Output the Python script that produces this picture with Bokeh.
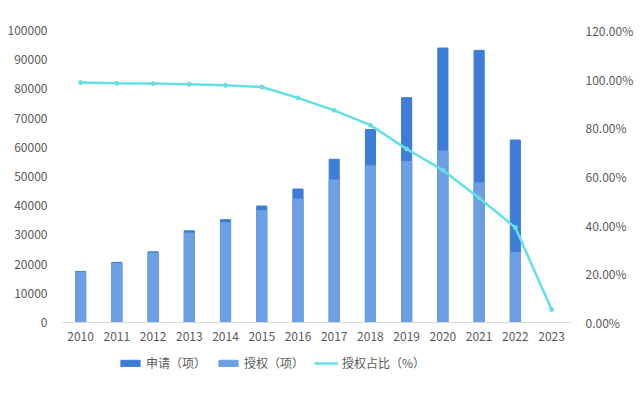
from bokeh.plotting import figure
from bokeh.layouts import column
from bokeh.models import (Range1d, LinearAxis, FixedTicker, PrintfTickFormatter,
                          Legend, LegendItem, ColumnDataSource)
from bokeh.embed import file_html
from bokeh.resources import INLINE

years = [2010, 2011, 2012, 2013, 2014, 2015, 2016, 2017, 2018, 2019, 2020, 2021, 2022, 2023]
year_labels = [str(y) for y in years]
nan = float("nan")
apply_counts = [17500, 20600, 24200, 31400, 35200, 39900, 45700, 55900, 66100, 77000, 94000, 93200, 62500, nan]
grant_counts = [17200, 20200, 23800, 30600, 34200, 38300, 42300, 48800, 53700, 55100, 58700, 47800, 24000, nan]
grant_ratio = [98.6, 98.3, 98.2, 97.9, 97.5, 96.8, 92.3, 87.2, 81.1, 71.3, 62.6, 51.2, 39.0, 5.3]
left_ticks = [0, 10000, 20000, 30000, 40000, 50000, 60000, 70000, 80000, 90000, 100000]
right_ticks = [0, 20, 40, 60, 80, 100, 120]
series_names = ["申请（项）", "授权（项）", "授权占比（%）"]

FONT = "Noto Sans CJK SC"
TXT = "#595959"
C_APPLY = "#3D7DD8"
C_GRANT = "#6C9FE3"
C_LINE = "#62E0E3"
BAR_W = 0.28

src = ColumnDataSource(dict(x=years, apply=apply_counts, grant=grant_counts, ratio=grant_ratio))

xr = Range1d(2009.5, 2023.55)
p = figure(width=636, height=343, output_backend="svg", toolbar_location=None,
           x_range=xr, y_range=Range1d(0, 100000),
           min_border_left=62, min_border_right=59, min_border_top=30, min_border_bottom=20)
p.extra_y_ranges = {"pct": Range1d(0, 120)}

p.vbar(x="x", top="apply", width=BAR_W, source=src, color=C_APPLY)
p.vbar(x="x", top="grant", width=BAR_W, source=src, color=C_GRANT)
p.line(x="x", y="ratio", source=src, y_range_name="pct", color=C_LINE, line_width=2.5)
p.scatter(x="x", y="ratio", source=src, y_range_name="pct", color=C_LINE, size=4)

p.grid.visible = False
p.outline_line_color = None

# x axis
xa = p.xaxis[0]
xa.ticker = FixedTicker(ticks=years)
xa.major_label_overrides = {y: l for y, l in zip(years, year_labels)}
xa.axis_line_color = "#D9D9D9"
xa.major_tick_line_color = None
xa.minor_tick_line_color = None
xa.major_label_text_font = FONT
xa.major_label_text_font_size = "12px"
xa.major_label_text_color = TXT
xa.major_label_standoff = 3

# left axis
ya = p.yaxis[0]
ya.ticker = FixedTicker(ticks=left_ticks)
ya.formatter = PrintfTickFormatter(format="%d")
ya.axis_line_color = None
ya.major_tick_line_color = None
ya.minor_tick_line_color = None
ya.major_label_text_font = FONT
ya.major_label_text_font_size = "12px"
ya.major_label_text_color = TXT
ya.major_label_standoff = 9

# right axis
ra = LinearAxis(y_range_name="pct", ticker=FixedTicker(ticks=right_ticks),
                formatter=PrintfTickFormatter(format="%.2f%%"))
ra.axis_line_color = None
ra.major_tick_line_color = None
ra.minor_tick_line_color = None
ra.major_label_text_font = FONT
ra.major_label_text_font_size = "12px"
ra.major_label_text_color = TXT
ra.major_label_standoff = 8
p.add_layout(ra, "right")

# legend strip: same series as hidden renderers in a small figure, legend only
lg = figure(width=636, height=53, output_backend="svg", toolbar_location=None,
            x_range=xr, y_range=Range1d(0, 100000),
            x_axis_location=None, y_axis_location=None,
            min_border_left=0, min_border_right=0, min_border_top=0, min_border_bottom=0)
lg.grid.visible = False
lg.outline_line_color = None
l1 = lg.vbar(x="x", top="apply", width=BAR_W, source=src, color=C_APPLY, visible=False)
l2 = lg.vbar(x="x", top="grant", width=BAR_W, source=src, color=C_GRANT, visible=False)
l3 = lg.line(x="x", y="ratio", source=src, color=C_LINE, line_width=2.5, visible=False)

legend = Legend(items=[LegendItem(label=series_names[0], renderers=[l1]),
                       LegendItem(label=series_names[1], renderers=[l2]),
                       LegendItem(label=series_names[2], renderers=[l3])],
                orientation="horizontal", location=(56, 25),
                label_text_font=FONT, label_text_font_size="12px", label_text_color=TXT,
                glyph_width=24, glyph_height=8, spacing=10, label_standoff=4,
                inactive_fill_alpha=0,
                border_line_color=None, background_fill_alpha=0, padding=2, margin=0)
lg.add_layout(legend, "center")

layout = column(p, lg, spacing=0)
open("out.html", "w").write(file_html(layout, INLINE))
